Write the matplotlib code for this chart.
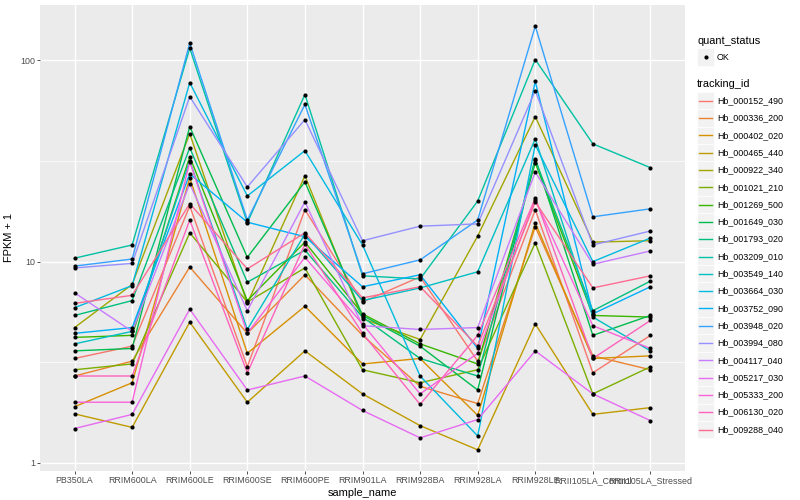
import matplotlib
matplotlib.use("Agg")
import matplotlib.pyplot as plt
import numpy as np
from matplotlib.patches import Rectangle

plt.rcParams['font.family'] = ['Liberation Sans', 'DejaVu Sans']

samples = ['PB350LA', 'RRIM600LA', 'RRIM600LE', 'RRIM600SE', 'RRIM600PE', 'RRIM901LA',
           'RRIM928BA', 'RRIM928LA', 'RRIM928LE', 'RRII105LA_Control', 'RRII105LA_Stressed']

genes = ['Hb_000152_490', 'Hb_000336_200', 'Hb_000402_020', 'Hb_000465_440', 'Hb_000922_340',
         'Hb_001021_210', 'Hb_001269_500', 'Hb_001649_030', 'Hb_001793_020', 'Hb_003209_010',
         'Hb_003549_140', 'Hb_003664_030', 'Hb_003752_090', 'Hb_003948_020', 'Hb_003994_080',
         'Hb_004117_040', 'Hb_005217_030', 'Hb_005333_200', 'Hb_006130_020', 'Hb_009288_040']

# FPKM + 1, one list per tracking_id, in sample order
hb_000152_490 = [3.3, 3.8, 18.9, 3.0, 18.1, 6.3, 8.4, 3.2, 18.1, 2.8, 4.3]
hb_000336_200 = [2.7, 3.2, 9.4, 4.4, 8.6, 4.3, 2.4, 1.97, 14.9, 3.4, 2.9]
hb_000402_020 = [1.9, 2.5, 26.1, 3.5, 6.0, 3.1, 3.3, 1.72, 15.6, 3.3, 3.4]
hb_000465_440 = [1.75, 1.5, 5.0, 2.0, 3.6, 2.2, 1.53, 1.16, 4.9, 1.74, 1.88]
hb_000922_340 = [4.7, 7.7, 43.3, 6.2, 26.7, 5.2, 4.1, 13.4, 52.6, 12.5, 12.7]
hb_001021_210 = [2.9, 3.1, 13.9, 6.3, 9.3, 2.9, 2.5, 2.9, 12.4, 2.2, 3.0]
hb_001269_500 = [4.2, 4.3, 33.2, 6.4, 12.5, 5.5, 3.9, 3.1, 31.0, 5.4, 5.3]
hb_001649_030 = [3.6, 3.7, 46.9, 10.5, 24.9, 5.4, 3.8, 2.3, 32.5, 4.3, 5.4]
hb_001793_020 = [5.4, 6.4, 36.8, 7.9, 11.4, 5.3, 3.3, 2.7, 32.1, 5.7, 8.0]
hb_003209_010 = [10.4, 12.1, 115, 15.6, 67.7, 8.5, 8.2, 20.0, 101, 38.5, 29.3]
hb_003549_140 = [3.9, 4.5, 31.7, 4.6, 13.7, 6.4, 7.4, 8.9, 40.8, 5.3, 3.6]
hb_003664_030 = [5.9, 7.6, 77.6, 21.2, 35.6, 12.1, 2.7, 1.36, 38.1, 10.0, 13.1]
hb_003752_090 = [4.4, 4.7, 27.3, 15.7, 13.3, 7.5, 8.6, 3.7, 78.6, 5.5, 7.5]
hb_003948_020 = [9.5, 10.3, 122, 16.1, 60.4, 8.7, 10.2, 16.1, 148, 16.7, 18.3]
hb_003994_080 = [9.3, 9.8, 66.1, 23.5, 50.8, 12.7, 15.0, 15.4, 70.8, 12.1, 14.2]
hb_004117_040 = [7.0, 4.5, 24.4, 5.7, 19.8, 4.8, 4.6, 4.7, 27.9, 9.7, 11.3]
hb_005217_030 = [1.48, 1.74, 5.8, 2.3, 2.7, 1.82, 1.33, 1.64, 3.6, 2.2, 1.62]
hb_005333_200 = [2.0, 2.0, 31.4, 4.4, 10.5, 4.9, 2.2, 3.5, 20.3, 4.8, 3.7]
hb_006130_020 = [2.7, 2.7, 16.1, 2.8, 12.2, 4.4, 1.95, 4.3, 20.7, 3.3, 5.1]
hb_009288_040 = [6.2, 6.8, 19.4, 9.2, 13.9, 6.6, 7.5, 3.8, 19.8, 7.4, 8.5]

series = [hb_000152_490, hb_000336_200, hb_000402_020, hb_000465_440, hb_000922_340,
          hb_001021_210, hb_001269_500, hb_001649_030, hb_001793_020, hb_003209_010,
          hb_003549_140, hb_003664_030, hb_003752_090, hb_003948_020, hb_003994_080,
          hb_004117_040, hb_005217_030, hb_005333_200, hb_006130_020, hb_009288_040]

quant_status = ['OK']

# ggplot hue palette for 20 levels
colors = ['#F8766D', '#EA8331', '#D89000', '#C09B00', '#A3A500', '#7CAE00', '#39B600',
          '#00BB4E', '#00BF7D', '#00C1A3', '#00BFC4', '#00BAE0', '#00B0F6', '#35A2FF',
          '#9590FF', '#C77CFF', '#E76BF3', '#FA62DB', '#FF62BC', '#FF6C91']

W, H = 800, 500
fig = plt.figure(figsize=(W / 100, H / 100), dpi=100)
ax = fig.add_axes([40 / W, 1 - 471 / H, 645 / W, 466 / H])
ax.set_facecolor('#EBEBEB')

x = np.arange(len(samples))
for vals, col in zip(series, colors):
    ax.plot(x, vals, color=col, lw=1.0, zorder=2)
for vals in series:
    ax.scatter(x, vals, s=9, color='black', zorder=3, linewidths=0)

ax.set_yscale('log')
allv = np.concatenate([np.asarray(v, float) for v in series])
lo, hi = np.log10(allv.min()), np.log10(allv.max())
pad = 0.05 * (hi - lo)
ax.set_ylim(10 ** (lo - pad), 10 ** (hi + pad))
ax.set_xlim(-0.6, len(samples) - 0.4)

ax.set_yticks([1, 10, 100])
ax.set_yticklabels(['1', '10', '100'])
ax.set_yticks([10 ** 0.5, 10 ** 1.5], minor=True)
ax.yaxis.set_minor_formatter(plt.NullFormatter())
ax.set_xticks(x)
ax.set_xticklabels(samples)

ax.tick_params(axis='both', which='major', length=2.2, width=0.6, color='#333333',
               labelcolor='#4D4D4D', labelsize=6.4, pad=1.5)
ax.tick_params(axis='y', which='minor', length=0)
ax.grid(which='major', color='white', lw=1.0)
ax.grid(which='minor', axis='y', color='white', lw=0.5)
ax.set_axisbelow(True)
for s in ax.spines.values():
    s.set_visible(False)

ax.set_xlabel('sample_name', fontsize=7.9, labelpad=2)
ax.set_ylabel('FPKM + 1', fontsize=7.9, labelpad=4)

# legends drawn in pixel space on an overlay
lg = fig.add_axes([0, 0, 1, 1], zorder=5)
lg.set_xlim(0, W)
lg.set_ylim(H, 0)
lg.axis('off')

kx, kw, kh = 697, 17, 17.3
lg.text(kx, 41, 'quant_status', fontsize=7.9, va='center', ha='left', color='black')
lg.add_patch(Rectangle((kx, 57 - kh / 2), kw, kh, facecolor='#F2F2F2', edgecolor='white', lw=0.5))
lg.scatter([kx + kw / 2], [57], s=9, color='black', linewidths=0)
lg.text(kx + 20, 57, quant_status[0], fontsize=6.4, va='center', ha='left')

lg.text(kx, 84, 'tracking_id', fontsize=7.9, va='center', ha='left', color='black')
for i, (g, col) in enumerate(zip(genes, colors)):
    yc = 100.8 + i * kh
    lg.add_patch(Rectangle((kx, yc - kh / 2), kw, kh, facecolor='#F2F2F2', edgecolor='white', lw=0.5))
    lg.plot([kx + 2, kx + kw - 2], [yc, yc], color=col, lw=1.0)
    lg.text(kx + 20, yc, g, fontsize=6.4, va='center', ha='left')

fig.savefig('out.png', dpi=100)
